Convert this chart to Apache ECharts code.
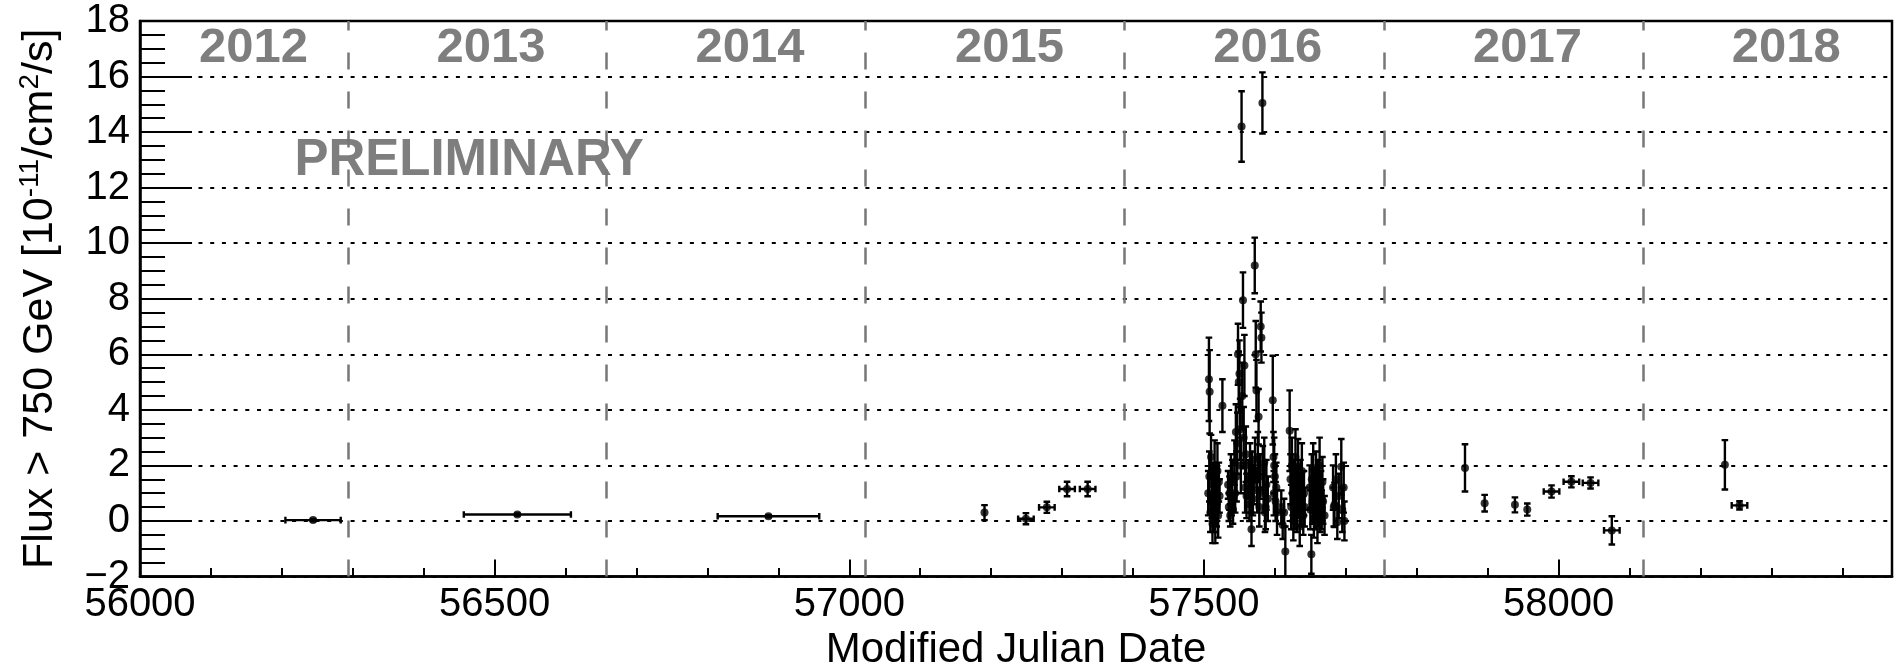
<!DOCTYPE html>
<html><head><meta charset="utf-8">
<script src="https://cdn.jsdelivr.net/npm/echarts@6/dist/echarts.min.js"></script>
<style>html,body{margin:0;padding:0;background:#fff}#c{width:1901px;height:667px}</style>
</head><body><div id="c"></div>
<script>
// ---------------- data ----------------
const yearBoundaries = [56293, 56658, 57023, 57388, 57754, 58119];
const yearLabels = ['2012', '2013', '2014', '2015', '2016', '2017', '2018'];
const yearLabelMJD = [56160, 56495, 56860, 57226, 57590, 57956, 58321];
const yearLabelFlux = 17.0;
const prelimText = 'PRELIMINARY';
const prelimPos = [56464, 12.95];

// yearly bins: [MJD, flux, xErr, yErr]
const yearlyBins = [
  [56244, 0.03, 39, 0.04],
  [56532, 0.23, 75.5, 0.04],
  [56886, 0.17, 71.6, 0.04]
];
// ~monthly bins (crosses): [MJD, flux, xErr, yErr]
const monthlyBins = [
  [57249, 0.08, 11, 0.20],
  [57278.5, 0.49, 11, 0.20],
  [57307, 1.15, 11, 0.26],
  [57336, 1.15, 11, 0.26],
  [57990, 1.06, 11, 0.22],
  [58018, 1.41, 11, 0.20],
  [58045, 1.37, 11, 0.20],
  [58075, -0.34, 11, 0.51],
  [58255, 0.56, 11, 0.15]
];
// single nights outside the 2016 flare: [MJD, flux, yErr]
const sparseNights = [
  [57190.6, 0.30, 0.27],
  [57868, 1.91, 0.85],
  [57895.7, 0.64, 0.30],
  [57938.4, 0.58, 0.27],
  [57955.8, 0.41, 0.22],
  [58234.4, 2.02, 0.89]
];
// nightly points of the 2016 flare: [MJD, flux, yErr]
const flare2016 = [
  [57507, 5.1, 1.5], [57508, 4.65, 1.5], [57506, 1.0, 0.8], [57507.5, 1.6, 0.9],
  [57509, 0.3, 0.7], [57510, 2.3, 0.8], [57511, 0.8, 0.7], [57512, -0.1, 0.7],
  [57513, 1.3, 0.8], [57514, 0.5, 0.9], [57515, 2.0, 0.9], [57516, 0.0, 0.8],
  [57517, 1.1, 0.9], [57518, 0.6, 0.8], [57519, 1.8, 1.0], [57520, 0.2, 0.8],
  [57521, 1.4, 0.7], [57522, 0.9, 0.6], [57526, 4.15, 0.95],
  [57534, 1.3, 0.5], [57535, 0.5, 0.5], [57536, 1.0, 0.6], [57537, 0.2, 0.4],
  [57538, 1.7, 0.7], [57539, 0.8, 0.6], [57540, 1.5, 0.7], [57541, 0.4, 0.5],
  [57543, 2.1, 0.8], [57544, 1.0, 0.7], [57545, 3.2, 1.0], [57546, 1.6, 0.9],
  [57547, 2.8, 1.1], [57548, 6.0, 1.1], [57549, 5.0, 1.1], [57550, 5.3, 1.2],
  [57551, 3.3, 1.1], [57552, 2.0, 1.0], [57553, 14.2, 1.27], [57554, 4.5, 1.2],
  [57555, 7.95, 1.0], [57556, 3.0, 1.1], [57557, 5.6, 1.1], [57558, 1.2, 0.9],
  [57559, 2.4, 1.0], [57560, 0.9, 0.8],
  [57563, 1.5, 0.7], [57564, 0.6, 0.6], [57565, 2.0, 0.8], [57566, 1.0, 0.7],
  [57567, -0.3, 0.6], [57568, 1.8, 0.7], [57569, 0.8, 0.6], [57570, 1.3, 0.7],
  [57571.6, 9.2, 1.0], [57572, 2.2, 0.8], [57573, 6.0, 1.2], [57574, 4.7, 1.1],
  [57575, 1.1, 0.8], [57576, 2.3, 0.9], [57577, 3.75, 1.0], [57578, 0.5, 0.7],
  [57579, 1.6, 0.8], [57580, 7.0, 0.9], [57581, 6.6, 0.9], [57582.4, 15.05, 1.1],
  [57583, 1.9, 0.8], [57584, 1.0, 0.7], [57585, 2.1, 0.9], [57586, 0.3, 0.7],
  [57587, 0.5, 0.8], [57588, 1.3, 0.9], [57590, 0.8, 0.8],
  [57597, 4.35, 1.6], [57598, 2.3, 0.9], [57598.5, 1.0, 0.8], [57599, 2.0, 1.0],
  [57600, 1.6, 0.8], [57601, 0.7, 0.7], [57602, 1.2, 0.9], [57603, 0.3, 0.8],
  [57609, 0.5, 0.6], [57611, -0.15, 0.5], [57613, 0.3, 0.5], [57614.7, -1.1, 0.9],
  [57620.8, 3.25, 1.45], [57622, 1.5, 0.9], [57623, 0.5, 0.8], [57624, 2.0, 1.0],
  [57625, 1.0, 0.8], [57626, 0.0, 0.7], [57627, 1.4, 0.8], [57628, 0.6, 0.9],
  [57629, 2.3, 1.0], [57630, 1.2, 0.8], [57631, 0.3, 0.7], [57632.6, 1.95, 1.0],
  [57634, 0.9, 0.8], [57635, -0.2, 0.7], [57636, 1.3, 0.9], [57637, 0.6, 0.8],
  [57638, 1.8, 1.0], [57640, 0.2, 0.7], [57641, 1.0, 0.8], [57642, 0.5, 0.7],
  [57649, 1.2, 0.8], [57650, 0.4, 0.7], [57651.4, -1.2, 0.7], [57652, 1.5, 0.9],
  [57653, 0.7, 0.8], [57654, 1.9, 0.9], [57655, 0.1, 0.7], [57656, 1.1, 0.8],
  [57657, 0.5, 0.8], [57658, 1.6, 0.9], [57659, 0.9, 0.8], [57660, -0.1, 0.7],
  [57661, 1.3, 0.9], [57662, 0.6, 0.8], [57663, 2.0, 1.0], [57664, 0.3, 0.7],
  [57665, 1.0, 0.8], [57666, 0.4, 0.7], [57667, 1.4, 0.9], [57668, 0.7, 0.8],
  [57670, 0.2, 0.7],
  [57682, 1.2, 0.8], [57683, 0.5, 0.7], [57684, 0.58, 0.8], [57686, 1.5, 0.9],
  [57688, -0.05, 0.6], [57690, 0.9, 0.8], [57693.6, 1.95, 1.0], [57695, 0.4, 0.8],
  [57697, 1.2, 0.9], [57698, 0.0, 0.7]
];

// ---------------- chart ----------------
const FONT = 'Liberation Sans, Arial, Helvetica, sans-serif';
const GRAY = '#5e5e5e';
const allPoints = []
  .concat(yearlyBins.map(d => [d[0], d[1], d[2], d[3]]))
  .concat(monthlyBins.map(d => [d[0], d[1], d[2], d[3]]))
  .concat(sparseNights.map(d => [d[0], d[1], 0, d[2]]))
  .concat(flare2016.map(d => [d[0], d[1], 0, d[2]]));

function renderErr(params, api) {
  const x = api.value(0), y = api.value(1), ex = api.value(2), ey = api.value(3);
  const cap = 3.3;
  const st = { stroke: '#000', lineWidth: 2.4 };
  const ch = [];
  if (ey > 0) {
    const t = api.coord([x, y + ey]), b = api.coord([x, y - ey]);
    ch.push({ type: 'line', shape: { x1: t[0], y1: t[1], x2: b[0], y2: b[1] }, style: st });
    ch.push({ type: 'line', shape: { x1: t[0] - cap, y1: t[1], x2: t[0] + cap, y2: t[1] }, style: st });
    ch.push({ type: 'line', shape: { x1: b[0] - cap, y1: b[1], x2: b[0] + cap, y2: b[1] }, style: st });
  }
  if (ex > 0) {
    const l = api.coord([x - ex, y]), r = api.coord([x + ex, y]);
    ch.push({ type: 'line', shape: { x1: l[0], y1: l[1], x2: r[0], y2: r[1] }, style: st });
    ch.push({ type: 'line', shape: { x1: l[0], y1: l[1] - cap, x2: l[0], y2: l[1] + cap }, style: st });
    ch.push({ type: 'line', shape: { x1: r[0], y1: r[1] - cap, x2: r[0], y2: r[1] + cap }, style: st });
  }
  return { type: 'group', children: ch };
}

const chart = echarts.init(document.getElementById('c'), null, { renderer: 'canvas' });
const axisLine = { show: true, onZero: false, lineStyle: { color: '#000', width: 2.5 } };
chart.setOption({
  animation: false,
  backgroundColor: '#fff',
  grid: { left: 140, right: 9, top: 21, bottom: 90.5, containLabel: false, outerBoundsMode: 'none',
          show: true, borderColor: '#000', borderWidth: 2.5, backgroundColor: 'transparent' },
  xAxis: [{
    type: 'value', min: 56000, max: 58470, interval: 500, position: 'bottom',
    axisLine: axisLine,
    axisTick: { inside: true, length: 17, lineStyle: { color: '#000', width: 2 } },
    axisLabel: { fontSize: 40, color: '#000', fontFamily: FONT, margin: 8, showMaxLabel: false,
                 formatter: v => String(v) },
    splitLine: { show: false },
    name: 'Modified Julian Date', nameLocation: 'middle', nameGap: 52,
    nameTextStyle: { fontSize: 42, color: '#000', fontFamily: FONT }
  }, {
    type: 'value', min: 56000, max: 58470, interval: 100, position: 'bottom',
    axisLine: { show: false, onZero: false },
    axisTick: { inside: true, length: 8.5, lineStyle: { color: '#000', width: 2 } },
    axisLabel: { show: false }, splitLine: { show: false }
  }],
  yAxis: {
    type: 'value', min: -2, max: 18, interval: 2,
    axisLine: axisLine,
    axisTick: { inside: true, length: 52, lineStyle: { color: '#000', width: 2 } },
    minorTick: { show: true, splitNumber: 4, length: 25, lineStyle: { color: '#000', width: 2 } },
    splitLine: { show: true, lineStyle: { color: '#000', width: 2.2, type: [4, 7.7] } },
    axisLabel: { fontSize: 40, color: '#000', fontFamily: FONT, margin: 10,
                 formatter: v => (v < 0 ? '\u2212' + Math.abs(v) : String(v)) },
    name: '{n|Flux > 750 GeV [10}{s|-11}{n|/cm}{s|2}{n|/s]}',
    nameLocation: 'middle', nameRotate: 90, nameGap: 76,
    nameTextStyle: {
      rich: {
        n: { fontSize: 43, color: '#000', fontFamily: FONT, lineHeight: 48 },
        s: { fontSize: 28, color: '#000', fontFamily: FONT, verticalAlign: 'top', lineHeight: 48 }
      }
    }
  },
  series: [
    {
      type: 'scatter', name: 'labels', xAxisIndex: 0, z: 3, silent: true,
      symbolSize: 1, itemStyle: { color: 'rgba(0,0,0,0)' },
      data: yearLabelMJD.map((m, i) => ({ value: [m, yearLabelFlux], name: yearLabels[i] }))
        .concat([{ value: prelimPos, name: prelimText, label: { fontSize: 51 } }]),
      label: {
        show: true, position: 'inside', formatter: p => p.name,
        fontSize: 49, fontWeight: 'bold', color: GRAY, fontFamily: FONT
      },
      labelLayout: { hideOverlap: false },
      markLine: {
        silent: true, symbol: 'none', label: { show: false }, animation: false,
        lineStyle: { color: '#777', width: 2.5, type: [17, 22] },
        emphasis: { disabled: true },
        data: yearBoundaries.map(v => ({ xAxis: v }))
      }
    },
    {
      type: 'custom', name: 'errors', xAxisIndex: 0, z: 4, clip: true,
      renderItem: renderErr,
      encode: { x: 0, y: 1 },
      data: allPoints
    },
    {
      type: 'scatter', name: 'points', xAxisIndex: 0, z: 5,
      symbol: 'circle', symbolSize: 8, itemStyle: { color: '#000' },
      data: allPoints.map(d => [d[0], d[1]])
    }
  ]
});
</script></body></html>
